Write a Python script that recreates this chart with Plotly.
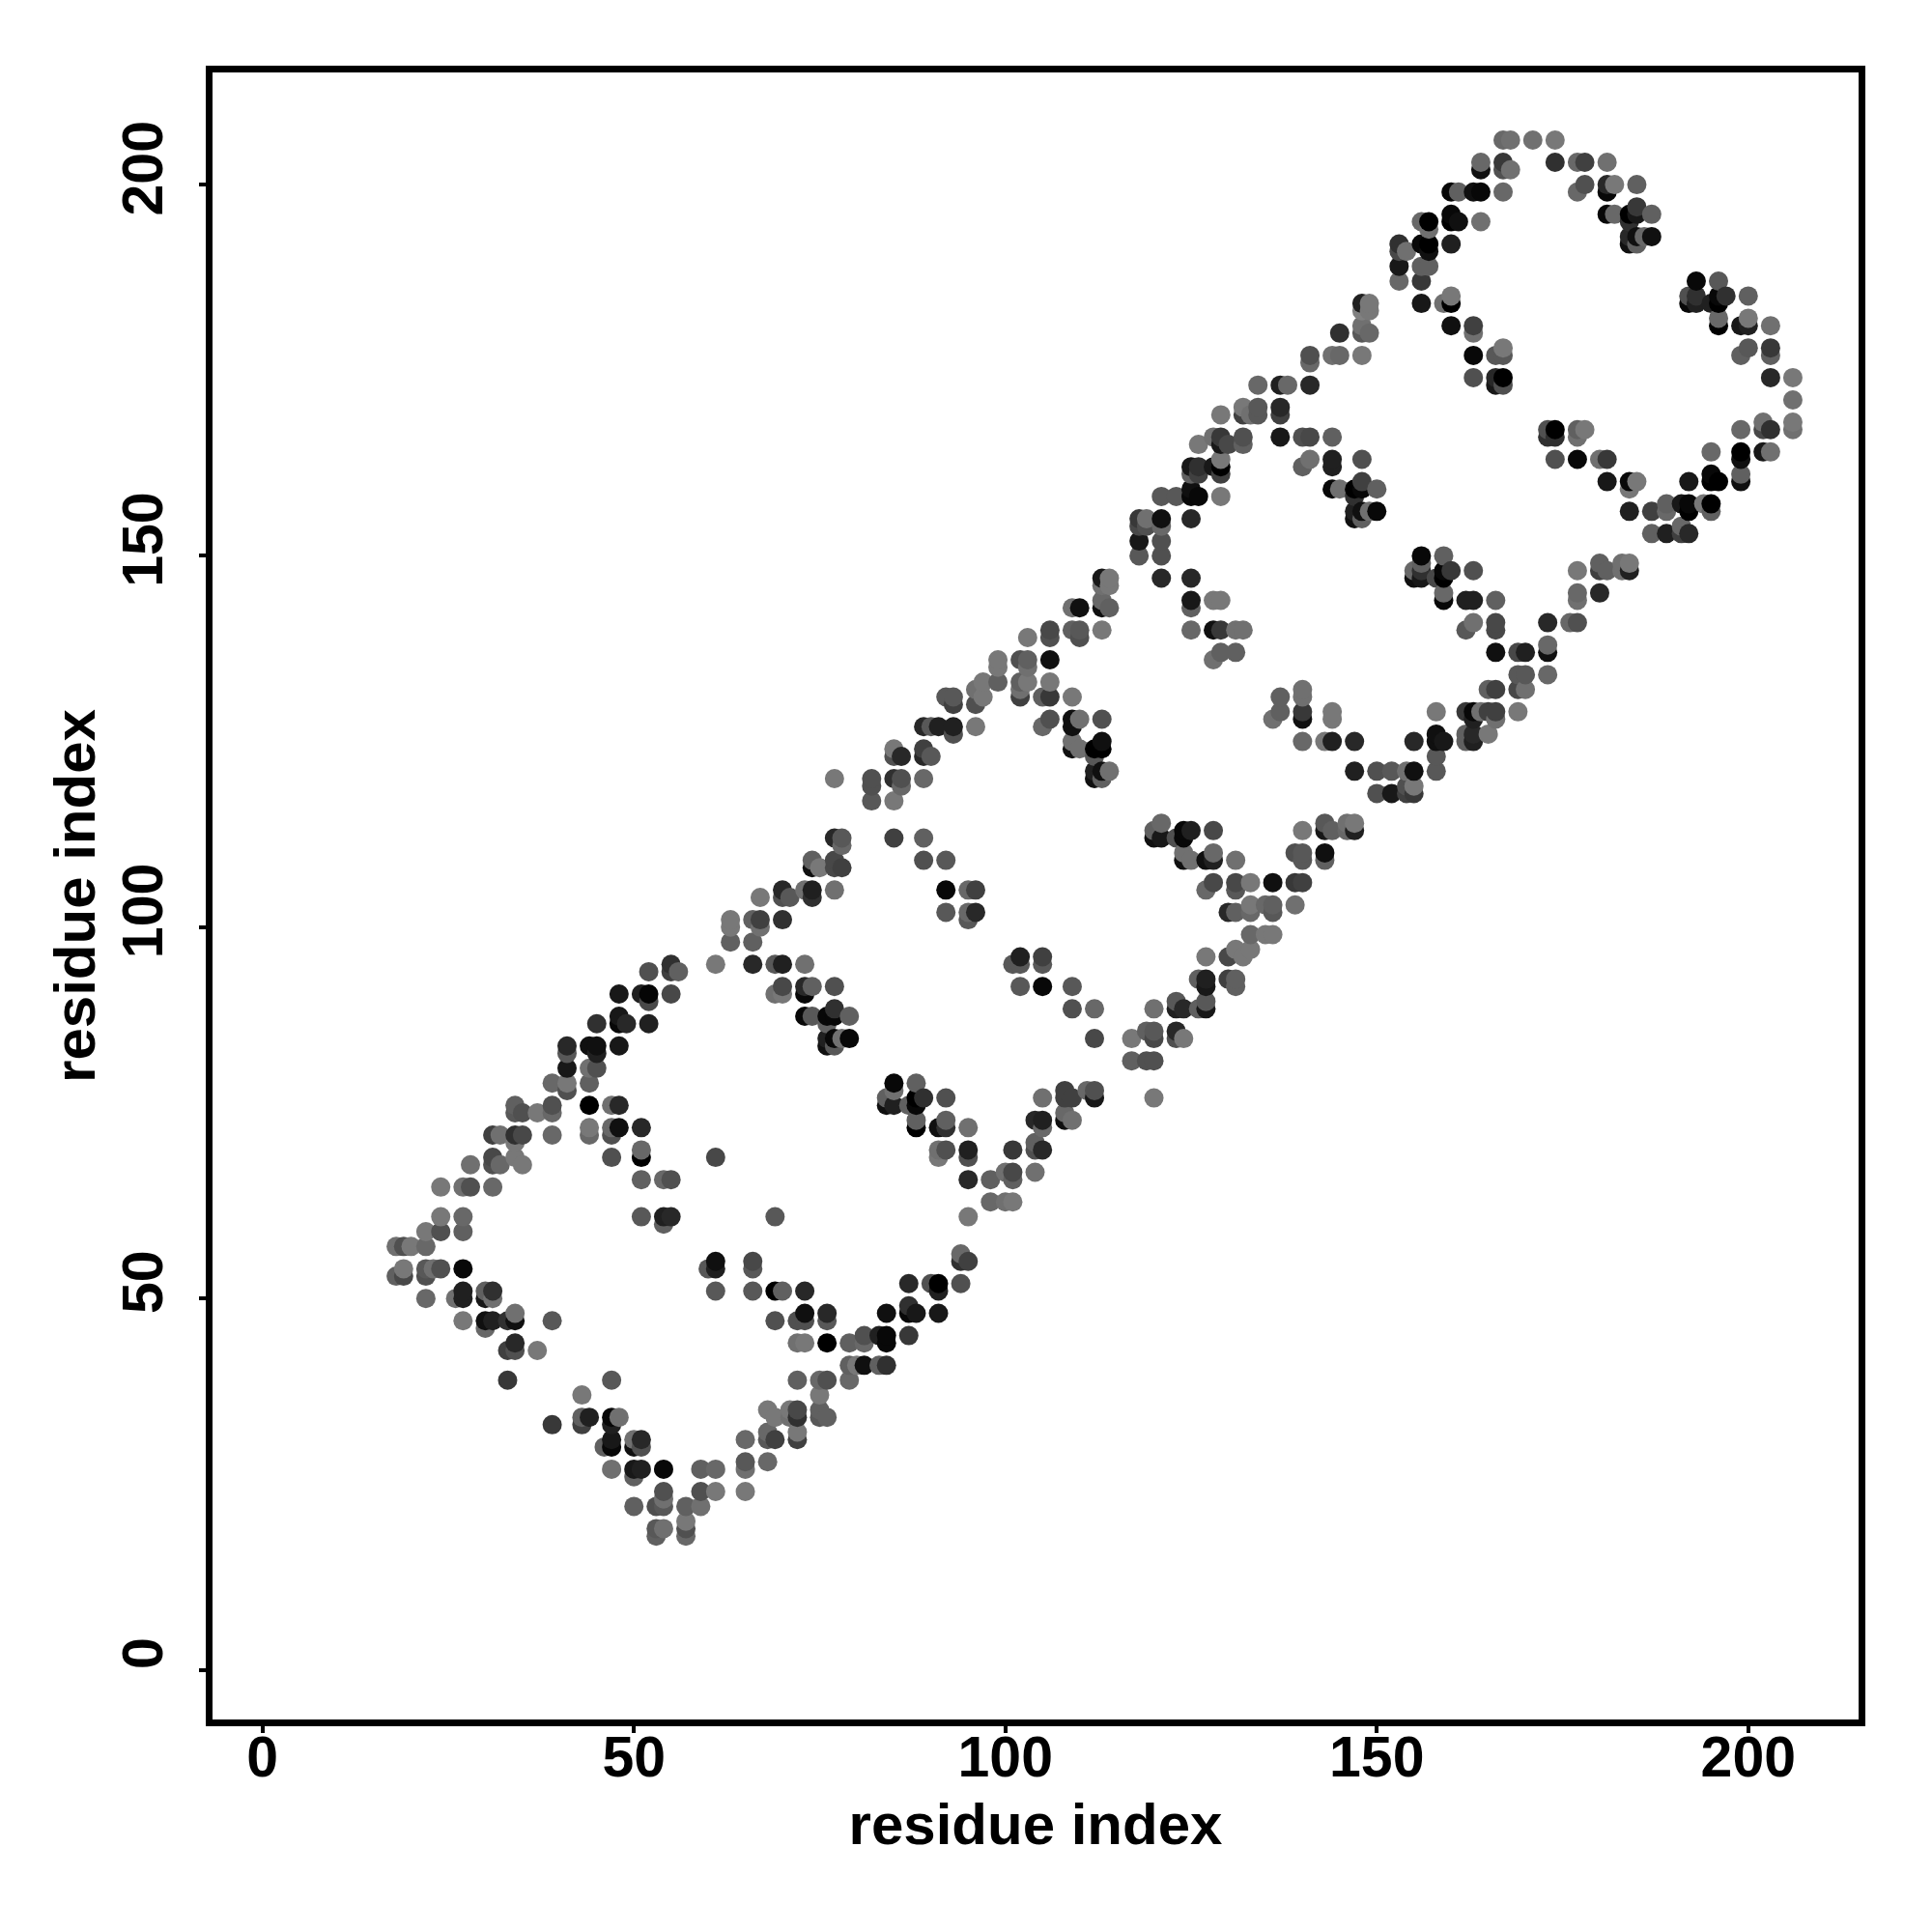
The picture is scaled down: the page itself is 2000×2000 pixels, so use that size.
import plotly.graph_objects as go

residue_i = [18,19,20,22,23,24,26,27,28,30,31,32,33,34,35,37,39,41,43,44,45,46,47,48,49,50,51,52,53,54,55,56,57,59,60,61,63,65,66,67,68,69,70,71,72,73,74,75,76,77,78,79,80,81,82,83,84,85,86,87,88,89,90,91,92,93,94,95,96,97,98,99,100,101,102,103,104,105,106,108,109,110,111,112,113,114,117,118,119,120,121,123,124,125,126,127,128,129,130,131,132,133,134,135,136,137,138,139,140,141,143,144,145,146,147,148,149,150,152,153,154,155,156,157,158,159,160,161,162,163,164,165,166,167,168,169,170,171,173,174,176,177,178,180,181,182,183,184,185,186,187,189,191,192,193,194,195,196,197,199,200,202,203,206]

residue_j = [
[57,53],[57,54,53],[57],[59,57,54,53,50],[54],[65,61,59,54],[50],[65,61,59,54,51,50,47],[68,65],[51,50,47,46],
[72,69,68,65,51,50,47],[72,68],[47,43,39],[76,75,72,71,69,48,47,44,43],[75,72,68],[75,43],[79,76,75,72,47,33],[84,83,81,79,78],[37,34,33],[84,81,79,76,73,72,34],
[87,84,83,81],[30],[76,73,72,69,39,34,33,31,30,27],[91,88,87,84,76,73,34],[87],[31,30,27,26,22],[91,73,70,69,66,61,31,30,27],[94,91,90,87],[22,19,18],[66,61,60,27,24,23,22,19],
[95,94,91,66,61],[94],[22,20,19,18],[27,24,22],[54],[95,69,55,54,51,27,24],[101,100,98],[31,28,27,24],[101,98,95,55,54,51],[104,101,100],
[35,32,31,28],[95,91,61,51,47,34,31],[105,104,101,95,92,91,51],[104,35,34],[47,44,39,35,34,32,31],[105,95,92,91,88,51,48,47,44],[109,108,105,104,92,88],[108,39,37,35,34],[88,87,85,84,48,47,44,39,34],[120,112,109,108,105,92,89,88,85,84],
[112,111,108,85],[88,85,44,41,39],[41],[45,44,41],[120,119,117],[45,41],[77,76,48,45,44,41],[124,123,120,117,112,79,78,76],[123,120,119],[76,52,49,48,45],
[79,77,76,74,73,48],[127,124,123,120,112,109,77],[127,123,52],[127,73,70,69,52,51,48],[131,109,105,102,77,74,73,70],[131,130,127,126],[56,55,52],[105,102,101,73,70,69,66,61,55],[132,130,127,105,102],[133,131],
[66,63],[136,135,133],[67,63],[95,70,67,66,63],[136,133,132,131,96,95,92],[139,136,135,133],[74,71,70,67],[131,127,96,95,92,77,74,73,70],[140,139,136,133,131,128],[78,77,75,74],
[143,140,131,128,127,125,124,92,89,77,74],[143,140,139,128,124],[78],[124,123,121,120,89,85,78,77],[147,146,144,143,140,128,125,124,121,120],[147,146,143,121],[85,82],[155,154,152,150],[155,154,86,82],[113,112,89,86,85,82,77],
[158,155,154,152,150,147,114,112],[158,112,90,89,86,85],[113,112,110,109,89,85],[162,161,159,158,155,147,144,143,140,113,109],[165,162,161,158,93,89],[109,105,96,93,92,90,89],[166,162,144,140,136,113,110,109,106],[169,166,165,163,162,161,158,144,140,137],[165,102,96,93],[140,137,109,106,105,102,97,93,92],
[170,169,166,165,140,96],[169,106,103,102,99,97],[173,170,169],[103,99],[128,106,103,102,99],[173,170,169,166,131,129],[173],[110,106,103],[166,162,132,131,129,128,125,113,110,109,106],[177,176,173,166,163],
[125,114,113,110,109],[177,166,163,162,159,129,128,125,113],[180,177,159],[114,113],[159,158,156,155,125,121,114,113],[184,183,181,180,177,163,160,159,156,155],[184,183,180,156],[159,156,121,118],[121,118],[192,191,189,187],
[191,121,119,118],[148,147,125,121,119,118],[195,192,189,187,184,150,149,148,147],[195,194,192,191,189],[147,129,126,125,123,121],[184,150,148,147,145,144,125],[199,196,195,192,185,184,181,148],[199,195],[144,140,129,126,125],[199,181,180,177,174,148,144,141,129,128,126,125],
[203,202,199,195,129],[132,129,126],[177,174,173,144,141,140,137,132,129,128],[206,203,202,199,178,177,174,173],[206,202],[137,134,132,129],[137,134,132],[206],[167,166,141,138,137,134],[206,203,167,166,163],
[141],[203,199,167,166,163,148,145,144,141],[203,200,167],[163,149,148,145],[203,200,199,196,163,160,148],[200,196],[149,148],[196,195,193,192,160,159,156,149,148],[200,197,196,193,192,160],[193],
[196,193,156,153],[157,156,153],[157,154,153],[185,184,160,157,156,153],[187,185,184],[157],[184,164,161,160,157,156],[187,185,184,182,181,160],[185],[181,177,167,164,163,161,160],
[185,182,181,178],[168,167,164],[181,178,177,174,167,164],[174,171,168,167],
]

shade = [
[0x70,0x60],[0x50,0x78,0x48],[0x78],[0x78,0x68,0x58,0x50,0x68],[0x70],[0x78,0x78,0x50,0x50],[0x70],[0x70,0x68,0x60,0x08,0x20,0x20,0x78],[0x70,0x50],[0x60,0x18,0x10,0x68],
[0x40,0x48,0x50,0x68,0x30,0x70,0x20],[0x70,0x68],[0x30,0x40,0x38],[0x60,0x58,0x30,0x78,0x78,0x70,0x10,0x28,0x50],[0x50,0x48,0x78],[0x78,0x78],[0x68,0x50,0x68,0x68,0x58,0x38],[0x28,0x58,0x18,0x78,0x50],[0x78,0x60,0x40],[0x10,0x70,0x60,0x00,0x78,0x68,0x20],
[0x30,0x10,0x20,0x50],[0x60],[0x70,0x68,0x50,0x50,0x58,0x08,0x20,0x18,0x08,0x70],[0x18,0x18,0x08,0x18,0x28,0x10,0x70],[0x28],[0x70,0x10,0x18,0x60,0x60],[0x20,0x28,0x68,0x00,0x60,0x58,0x28,0x50,0x20],[0x50,0x05,0x48,0x20],[0x50,0x58,0x60],[0x68,0x20,0x60,0x08,0x50,0x70,0x58,0x70],
[0x30,0x40,0x48,0x50,0x28],[0x60],[0x60,0x78,0x50,0x68],[0x60,0x50,0x70],[0x58],[0x78,0x48,0x10,0x20,0x58,0x68,0x78],[0x78,0x78,0x60],[0x68,0x58,0x70,0x78],[0x60,0x60,0x28,0x48,0x58,0x58],[0x78,0x40,0x70],
[0x78,0x68,0x58,0x68],[0x58,0x70,0x58,0x00,0x50,0x78,0x40],[0x28,0x50,0x30,0x20,0x48,0x78,0x60],[0x58,0x78,0x70],[0x50,0x70,0x60,0x48,0x30,0x78,0x40],[0x70,0x70,0x28,0x08,0x08,0x28,0x10,0x50,0x78],[0x60,0x10,0x20,0x30,0x60,0x58],[0x78,0x68,0x78,0x60,0x58],[0x08,0x60,0x20,0x10,0x28,0x58,0x00,0x50,0x60],[0x78,0x28,0x48,0x48,0x70,0x50,0x30,0x08,0x08,0x58],
[0x58,0x68,0x40,0x70],[0x60,0x08,0x60,0x60,0x68],[0x78],[0x50,0x68,0x10],[0x50,0x50,0x58],[0x20,0x60],[0x60,0x10,0x10,0x08,0x08,0x30],[0x78,0x50,0x30,0x78,0x40,0x08,0x70,0x20],[0x28,0x50,0x68],[0x60,0x28,0x30,0x08,0x38],
[0x60,0x00,0x08,0x60,0x00,0x18],[0x28,0x40,0x28,0x68,0x60,0x50,0x30],[0x58,0x58,0x50],[0x20,0x10,0x70,0x78,0x00,0x20,0x18],[0x58,0x58,0x08,0x58,0x50,0x60,0x30,0x50],[0x58,0x40,0x20,0x50],[0x68,0x30,0x50],[0x68,0x68,0x58,0x70,0x20,0x50,0x28,0x78,0x40],[0x70,0x50,0x78,0x40,0x28],[0x78,0x78],
[0x60,0x68],[0x78,0x78,0x60],[0x70,0x70],[0x58,0x38,0x48,0x60,0x78],[0x50,0x60,0x70,0x40,0x20,0x58,0x58],[0x78,0x60,0x70,0x78],[0x28,0x60,0x50,0x70],[0x60,0x68,0x40,0x58,0x08,0x70,0x20,0x68,0x28],[0x48,0x50,0x10,0x78,0x38,0x50],[0x40,0x40,0x68,0x10],
[0x70,0x60,0x78,0x10,0x10,0x70,0x10,0x58,0x50,0x40,0x70],[0x10,0x58,0x50,0x70,0x70],[0x68],[0x00,0x58,0x20,0x10,0x68,0x48,0x50,0x18],[0x18,0x70,0x68,0x10,0x78,0x50,0x10,0x00,0x10,0x60],[0x78,0x78,0x60,0x70],[0x78,0x60],[0x38,0x48,0x18,0x58],[0x70,0x50,0x60,0x50],[0x60,0x10,0x70,0x58,0x48,0x50,0x78],
[0x58,0x10,0x68,0x50,0x50,0x28,0x68,0x18],[0x58,0x50,0x58,0x20,0x28,0x50],[0x08,0x08,0x70,0x10,0x28,0x78],[0x18,0x60,0x10,0x08,0x28,0x28,0x18,0x60,0x68,0x20,0x70],[0x78,0x30,0x40,0x08,0x60,0x60],[0x10,0x68,0x78,0x20,0x18,0x58,0x18],[0x70,0x18,0x78,0x10,0x70,0x48,0x68,0x20,0x48],[0x78,0x38,0x18,0x78,0x00,0x40,0x78,0x78,0x38,0x60],[0x48,0x28,0x48,0x40],[0x70,0x60,0x70,0x48,0x58,0x60,0x78,0x60,0x60],
[0x78,0x40,0x50,0x60,0x70,0x78],[0x70,0x78,0x78,0x68,0x68,0x78],[0x68,0x58,0x58],[0x68,0x78],[0x70,0x10,0x60,0x58,0x78],[0x20,0x28,0x40,0x18,0x60,0x60],[0x68],[0x50,0x38,0x70],[0x50,0x60,0x70,0x70,0x38,0x10,0x68,0x78,0x58,0x58,0x40],[0x50,0x68,0x28,0x48,0x70],
[0x78,0x58,0x18,0x10,0x60],[0x70,0x60,0x20,0x20,0x08,0x78,0x78,0x20,0x60],[0x30,0x68,0x70],[0x70,0x68],[0x00,0x30,0x20,0x10,0x28,0x20,0x78,0x20],[0x20,0x80,0x70,0x58,0x78,0x50,0x40,0x08,0x10,0x60],[0x78,0x78,0x68,0x70],[0x60,0x08,0x50,0x50],[0x58,0x18],[0x30,0x48,0x18,0x68],
[0x70,0x70,0x50,0x40],[0x68,0x10,0x28,0x10,0x78,0x38],[0x68,0x08,0x60,0x38,0x18,0x08,0x60,0x30,0x18],[0x00,0x70,0x00,0x10,0x60],[0x48,0x78,0x10,0x10,0x58,0x58],[0x70,0x60,0x08,0x00,0x68,0x08,0x18],[0x08,0x08,0x00,0x20,0x78,0x00,0x10,0x38],[0x60,0x10],[0x20,0x58,0x38,0x60,0x60],[0x10,0x40,0x70,0x08,0x50,0x50,0x20,0x70,0x08,0x20,0x28,0x20],
[0x68,0x10,0x08,0x70,0x70],[0x60,0x40,0x78],[0x58,0x28,0x18,0x60,0x48,0x48,0x10,0x40,0x40,0x70],[0x68,0x38,0x50,0x68,0x78,0x58,0x00,0x50],[0x70,0x70],[0x48,0x58,0x48,0x78],[0x20,0x58,0x70],[0x70],[0x50,0x30,0x28,0x68,0x10,0x68],[0x78,0x30,0x00,0x30,0x50],
[0x68],[0x68,0x68,0x60,0x70,0x08,0x78,0x68,0x70,0x50],[0x40,0x50,0x78],[0x70,0x60,0x40,0x28],[0x70,0x28,0x08,0x08,0x38,0x18,0x60],[0x78,0x68],[0x70,0x70],[0x00,0x30,0x28,0x10,0x08,0x78,0x20,0x78,0x20],[0x60,0x38,0x18,0x10,0x60,0x78],[0x68],
[0x60,0x10,0x40,0x60],[0x60,0x68,0x20],[0x18,0x68,0x40],[0x50,0x08,0x18,0x08,0x00,0x28],[0x08,0x30,0x20],[0x78],[0x20,0x68,0x08,0x00,0x00,0x60],[0x58,0x08,0x00,0x68,0x00,0x00],[0x30],[0x18,0x60,0x68,0x00,0x10,0x60,0x10],
[0x60,0x78,0x20,0x58],[0x70,0x48,0x18],[0x70,0x38,0x60,0x28,0x30,0x70],[0x78,0x70,0x78,0x70],
]

x_ticks = [0, 50, 100, 150, 200]
y_ticks = [0, 50, 100, 150, 200]
x_title = "residue index"
y_title = "residue index"

rows = sorted(
    (i, j, s)
    for i, js, ss in zip(residue_i, residue_j, shade)
    for j, s in zip(js, ss)
)
xs = [r[0] for r in rows]
ys = [r[1] for r in rows]
colors = [f"rgb({r[2]},{r[2]},{r[2]})" for r in rows]

title_font = dict(family="Liberation Sans", size=60, color="black", weight=700)
tick_font = dict(family="Liberation Sans", size=59, color="black", weight=700)

fig = go.Figure(go.Scatter(
    x=xs, y=ys, mode="markers",
    marker=dict(size=20, color=colors, line=dict(width=0)),
    hoverinfo="skip",
))

axis = dict(
    showgrid=False, zeroline=False, showline=True, mirror=True,
    linecolor="black", linewidth=7,
    ticks="outside", ticklen=7, tickwidth=4, tickcolor="black",
    tickfont=tick_font, tickmode="array",
)
fig.update_xaxes(axis, range=[-6.72, 214.85], tickvals=x_ticks, ticklabelstandoff=-26,
                 title=dict(text=x_title, font=title_font, standoff=19))
fig.update_yaxes(axis, range=[-6.7, 215.1], tickvals=y_ticks, tickangle=-90, ticklabelstandoff=14,
                 ticklabelshift=-8,
                 title=dict(text=y_title, font=title_font, standoff=0))
fig.update_layout(
    width=2000, height=2000, showlegend=False,
    margin=dict(l=212, r=84, t=67, b=228, pad=0),
    paper_bgcolor="white", plot_bgcolor="white",
)
fig.write_html("out.html")
